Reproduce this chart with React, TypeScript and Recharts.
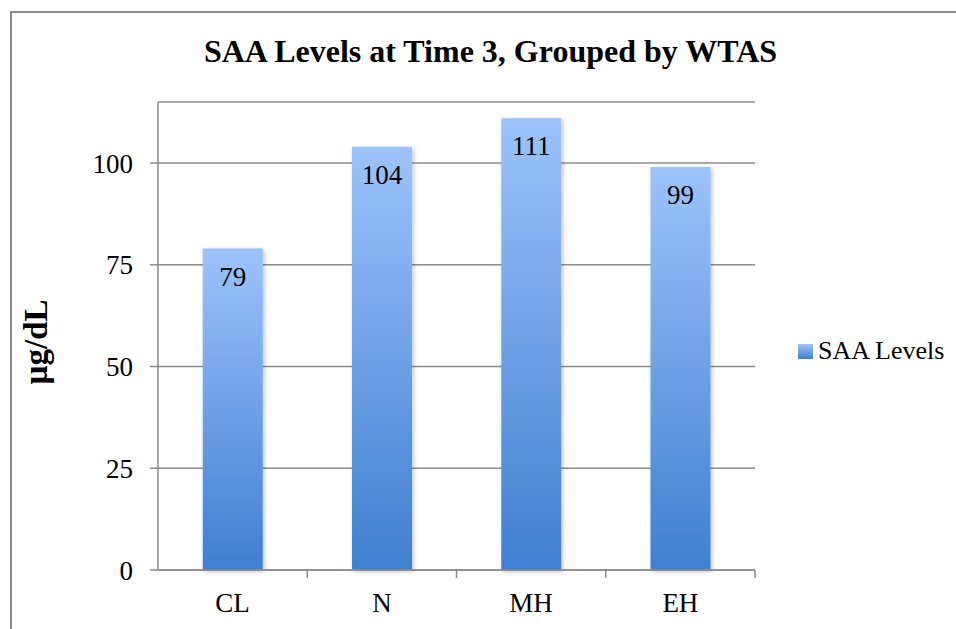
import { Bar, BarChart, CartesianGrid, LabelList, XAxis, YAxis } from "recharts";

const groups = ["CL", "N", "MH", "EH"];
const saaLevels = [79, 104, 111, 99];
const yTicks = [0, 25, 50, 75, 100];

const data = groups.map((group, i) => ({ group, saa: saaLevels[i] }));

const FONT = '"Liberation Serif", "Times New Roman", serif';
const AXIS = "#8c8c8c";

function CategoryTick(props: any) {
  const { x, y, payload, index, visibleTicksCount } = props;
  const half = payload?.offset ?? 597 / groups.length / 2;
  const last = index === visibleTicksCount - 1;
  return (
    <g>
      {index > 0 && (
        <line x1={x - half} x2={x - half} y1={y} y2={y + 8} stroke={AXIS} strokeWidth={1.5} />
      )}
      {last && (
        <line x1={x + half} x2={x + half} y1={y} y2={y + 8} stroke={AXIS} strokeWidth={1.5} />
      )}
      <text x={x} y={y + 42} textAnchor="middle" fontSize={27} fontFamily={FONT} fill="#000">
        {payload.value}
      </text>
    </g>
  );
}

function BarValue(props: any) {
  const x = Number(props.x);
  const y = Number(props.y);
  const width = Number(props.width);
  return (
    <text x={x + width / 2} y={y + 37} textAnchor="middle" fontSize={27} fontFamily={FONT} fill="#000">
      {props.value}
    </text>
  );
}

function UnitLabel(props: any) {
  const vb = props.viewBox || { x: 58, y: 102, width: 100, height: 468 };
  const cx = 47;
  const cy = vb.y + vb.height / 2 + 6;
  return (
    <text
      x={cx}
      y={cy}
      transform={`rotate(-90, ${cx}, ${cy})`}
      textAnchor="middle"
      fontSize={33}
      fontWeight="bold"
      fontFamily={FONT}
      fill="#000"
    >
      µg/dL
    </text>
  );
}

export default function App() {
  return (
    <div style={{ position: "relative", width: 956, height: 629, background: "#fff", overflow: "hidden" }}>
      <style>{"body{margin:0}"}</style>
      <div
        style={{
          position: "absolute",
          left: 10,
          top: 11,
          width: 1000,
          height: 700,
          borderLeft: `2px solid ${AXIS}`,
          borderTop: `2px solid ${AXIS}`,
        }}
      />
      <div
        style={{
          position: "absolute",
          left: 0,
          top: 36,
          width: 981,
          textAlign: "center",
          fontFamily: FONT,
          fontWeight: "bold",
          fontSize: 32,
          lineHeight: "30px",
          color: "#000",
        }}
      >
        SAA Levels at Time 3, Grouped by WTAS
      </div>
      <div style={{ position: "absolute", left: 0, top: 0 }}>
        <BarChart
          width={956}
          height={629}
          data={data}
          margin={{ top: 102, right: 201, bottom: 19, left: 58 }}
          barCategoryGap="30%"
        >
          <defs>
            <linearGradient id="saaFill" x1="0" y1="0" x2="0" y2="1">
              <stop offset="0%" stopColor="#9dc3fb" />
              <stop offset="100%" stopColor="#3f7fd0" />
            </linearGradient>
            <filter id="barShadow" x="-20%" y="-10%" width="140%" height="120%">
              <feDropShadow dx="1.5" dy="1.5" stdDeviation="2" floodColor="#000" floodOpacity="0.25" />
            </filter>
          </defs>
          <CartesianGrid vertical={false} stroke={AXIS} strokeWidth={1.5} />
          <XAxis
            dataKey="group"
            height={40}
            axisLine={{ stroke: AXIS, strokeWidth: 1.5 }}
            tickLine={false}
            tickSize={0}
            tickMargin={0}
            tick={<CategoryTick />}
            interval={0}
          />
          <YAxis
            width={100}
            domain={[0, 115]}
            ticks={yTicks}
            interval={0}
            axisLine={{ stroke: AXIS, strokeWidth: 1.5 }}
            tickLine={{ stroke: AXIS, strokeWidth: 1.5 }}
            tickSize={8}
            tickMargin={17}
            tick={{ fill: "#000", fontSize: 27, fontFamily: FONT }}
            label={<UnitLabel />}
          />
          <Bar
            dataKey="saa"
            name="SAA Levels"
            fill="url(#saaFill)"
            filter="url(#barShadow)"
            isAnimationActive={false}
          >
            <LabelList dataKey="saa" content={<BarValue />} />
          </Bar>
        </BarChart>
      </div>
      <div
        style={{
          position: "absolute",
          left: 798,
          top: 336,
          display: "flex",
          alignItems: "center",
          fontFamily: FONT,
          fontSize: 26,
          color: "#000",
        }}
      >
        <span
          style={{
            width: 15,
            height: 15,
            marginRight: 5,
            background: "linear-gradient(#9dc3fb, #3f7fd0)",
            display: "inline-block",
          }}
        />
        SAA Levels
      </div>
    </div>
  );
}
